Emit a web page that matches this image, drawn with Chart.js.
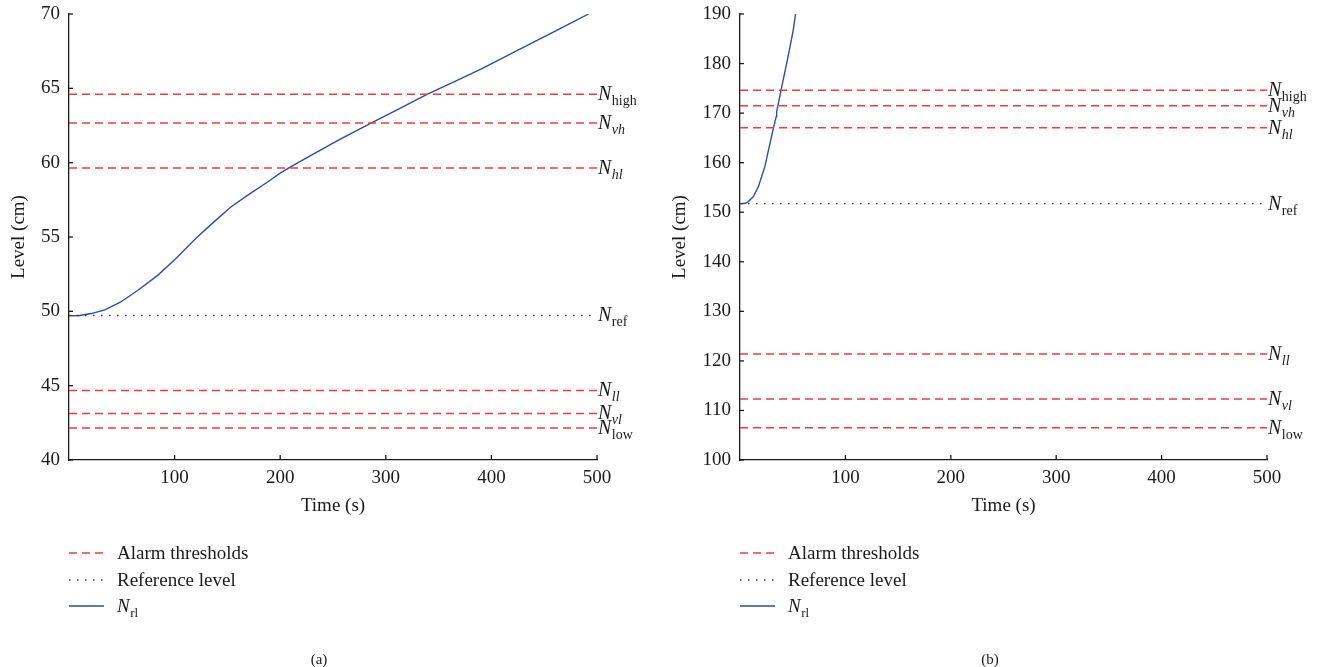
<!DOCTYPE html>
<html>
<head>
<meta charset="utf-8">
<script src="https://cdn.jsdelivr.net/npm/chart.js@4.4.1/dist/chart.umd.min.js"></script>
<style>
  html, body { margin: 0; padding: 0; background: #fff; }
  #wrap { position: relative; width: 1323px; height: 667px; }
  canvas { position: absolute; top: 0; }
</style>
</head>
<body>
<div id="wrap">
  <canvas id="chartA" style="left:0" width="661" height="667"></canvas>
  <canvas id="chartB" style="left:661px" width="662" height="667"></canvas>
</div>
<script>
// threshold names (subscripts of N), in drawing order
const thresholdSubs = ['high', 'vh', 'hl', 'ref', 'll', 'vl', 'low']
const subIsItalic = [false, true, true, false, true, true, false]

// (a) thresholds and measured level
const thresholdsA = [64.6, 62.66, 59.64, 49.72, 44.68, 43.13, 42.15]
const timeA = [1, 10, 21, 34, 49, 65, 84, 101, 120, 137, 153, 169, 188, 200, 207, 227, 256, 286, 312, 339, 365, 390, 415, 440, 466, 492]
const levelA = [49.7, 49.72, 49.85, 50.1, 50.63, 51.4, 52.42, 53.54, 54.9, 56.0, 57.0, 57.8, 58.7, 59.3, 59.6, 60.4, 61.55, 62.66, 63.6, 64.6, 65.45, 66.3, 67.2, 68.1, 69.05, 70.0]

// (b) thresholds and measured level
const thresholdsB = [174.6, 171.5, 167.05, 151.75, 121.4, 112.3, 106.5]
const timeB = [1, 5, 8, 12.8, 17.5, 23.7, 30, 34.3, 34.8, 39.5, 45.8, 50.5, 52.7]
const levelB = [151.7, 151.8, 152.15, 153.2, 155.2, 159.3, 165.4, 169.3, 170.3, 175.2, 181.6, 186.7, 190]

const legendLabels = ['Alarm thresholds', 'Reference level']

const serif = '"Liberation Serif", "DejaVu Serif", serif'
const ink = '#1a1a1a'
const red = '#f03c3c'
const blue = '#2c4da3'
const dashed = [8, 5]
const dotted = [1.5, 6.5]

function drawN(ctx, x, y, sub, italicSub, size) {
    ctx.font = `italic ${size}px ${serif}`
    ctx.textAlign = 'left'
    ctx.textBaseline = 'alphabetic'
    ctx.fillText('N', x, y)
    const w = ctx.measureText('N').width
    ctx.font = `${italicSub ? 'italic ' : ''}${Math.round(size * 0.7)}px ${serif}`
    ctx.fillText(sub, x + w + 0.5, y + 5)
}

const decorPlugin = {
    id: 'decor',
    afterDraw(chart, args, opts) {
        const { ctx, chartArea, scales } = chart
        ctx.save()
        ctx.strokeStyle = ink
        ctx.lineWidth = 1.3
        // inward tick marks
        scales.x.ticks.forEach((t) => {
            if (t.value === 0) return
            const px = scales.x.getPixelForValue(t.value)
            ctx.beginPath()
            ctx.moveTo(px, chartArea.bottom)
            ctx.lineTo(px, chartArea.bottom - 5)
            ctx.stroke()
        })
        scales.y.ticks.forEach((t) => {
            const py = scales.y.getPixelForValue(t.value)
            ctx.beginPath()
            ctx.moveTo(chartArea.left, py)
            ctx.lineTo(chartArea.left + 4, py)
            ctx.stroke()
        })

        // threshold labels at the right end
        ctx.fillStyle = ink
        opts.levels.forEach((v, i) => {
            const py = scales.y.getPixelForValue(v)
            drawN(ctx, chartArea.right + 1, py + 6, thresholdSubs[i], subIsItalic[i], 20)
        })

        // legend
        const lx = chartArea.left
        const rows = [553, 580, 606]
        const styles = [
            { color: red, dash: dashed, w: 1.5 },
            { color: '#333', dash: dotted, w: 1.3 },
            { color: blue, dash: [], w: 1.5 },
        ]
        styles.forEach((s, i) => {
            ctx.beginPath()
            ctx.setLineDash(s.dash)
            ctx.strokeStyle = s.color
            ctx.lineWidth = s.w
            ctx.moveTo(lx, rows[i])
            ctx.lineTo(lx + 35, rows[i])
            ctx.stroke()
        })
        ctx.setLineDash([])
        ctx.fillStyle = ink
        ctx.font = `19px ${serif}`
        ctx.textBaseline = 'alphabetic'
        ctx.fillText(legendLabels[0], lx + 48, rows[0] + 6)
        ctx.fillText(legendLabels[1], lx + 48, rows[1] + 6)
        drawN(ctx, lx + 48, rows[2] + 6, 'rl', false, 19)

        // panel caption
        ctx.font = `15px ${serif}`
        ctx.textAlign = 'center'
        ctx.fillText(opts.caption, chartArea.left + 250, 664)
        ctx.restore()
    },
}

function makeChart(id, times, levels, thresholds, yMin, yMax, yStep, yWidth, padRight, caption) {
    const datasets = thresholds.map((v, i) => ({
        data: [{ x: 0, y: v }, { x: 500, y: v }],
        borderColor: i === 3 ? '#333' : red,
        borderWidth: i === 3 ? 1.3 : 1.5,
        borderDash: i === 3 ? dotted : dashed,
    }))
    datasets.push({
        data: times.map((t, i) => ({ x: t, y: levels[i] })),
        borderColor: blue,
        borderWidth: 1.4,
    })

    const tickFont = { family: serif, size: 19 }
    return new Chart(document.getElementById(id), {
        type: 'line',
        data: { datasets },
        options: {
            responsive: false,
            animation: false,
            events: [],
            layout: { padding: { left: 0, top: 14, right: padRight, bottom: 147 } },
            elements: { point: { radius: 0 }, line: { tension: 0 } },
            plugins: {
                legend: { display: false },
                tooltip: { enabled: false },
                decor: { levels: thresholds, caption },
            },
            scales: {
                x: {
                    type: 'linear',
                    min: 0,
                    max: 500,
                    afterFit: (s) => {
                        s.height = 60
                        s.paddingLeft = 0
                        s.paddingRight = 0
                    },
                    grid: { display: false, drawTicks: false },
                    border: { color: ink, width: 1.3 },
                    ticks: {
                        stepSize: 100,
                        padding: 7,
                        autoSkip: false,
                        maxRotation: 0,
                        color: ink,
                        font: tickFont,
                        callback: (v) => (v === 0 ? '' : v),
                    },
                    title: { display: true, text: 'Time (s)', color: ink, font: tickFont, padding: { top: 0, bottom: 3 } },
                },
                y: {
                    min: yMin,
                    max: yMax,
                    afterFit: (s) => {
                        s.width = yWidth
                        s.paddingTop = 0
                        s.paddingBottom = 0
                    },
                    grid: { display: false, drawTicks: false },
                    border: { color: ink, width: 1.3 },
                    ticks: { stepSize: yStep, padding: 9, color: ink, font: tickFont },
                    title: { display: true, text: 'Level (cm)', color: ink, font: tickFont, padding: { top: 8, bottom: 0 } },
                },
            },
        },
        plugins: [decorPlugin],
    })
}

makeChart('chartA', timeA, levelA, thresholdsA, 40, 70, 5, 69, 64, '(a)')
makeChart('chartB', timeB, levelB, thresholdsB, 100, 190, 10, 79, 56, '(b)')
</script>
</body>
</html>
